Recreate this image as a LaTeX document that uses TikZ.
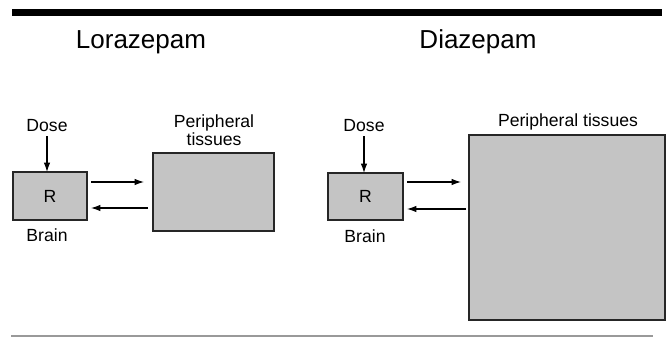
\documentclass[tikz,border=0pt]{standalone}
\usepackage{fontspec}
\setmainfont{Liberation Sans}
\usetikzlibrary{arrows.meta,calc}
\begin{document}
\begin{tikzpicture}[x=0.75pt,y=-0.75pt,
  title/.style={anchor=base,inner sep=0pt,font=\fontsize{19.5}{22}\selectfont},
  lab/.style={anchor=base,inner sep=1pt,font=\fontsize{13.2}{12}\selectfont,align=center},
  box/.style={draw=black!85,line width=1pt,fill=black!23,inner sep=0pt,outer sep=0pt,
    font=\fontsize{13.2}{16}\selectfont},
  arr/.style={-{Latex[length=7pt,width=4.8pt]},line width=0.8pt}]
\useasboundingbox (0,0) rectangle (670,338);
% frame lines
\fill[black] (12,9) rectangle (662,16.5);
\draw[black!40,line width=0.8pt] (11,336) -- (653,336);
% titles
\node[title] (t1) at (141,48.5) {Lorazepam};
\node[title] (t2) at (478,48.5) {Diazepam};
% Lorazepam
\node[lab] (dose1) at (47,132) {Dose};
\node[box,minimum width=74*0.75pt,minimum height=48*0.75pt] (brain1) at (50,196) {R};
\node[lab] (blab1) at (47,241) {Brain};
\node[box,minimum width=121*0.75pt,minimum height=78*0.75pt] (per1) at (213.5,192) {};
\node[lab,anchor=south] (plab1) at (214,147) {Peripheral\\tissues};
\draw[arr,shorten <=2pt] (dose1.south) -- (dose1.south |- brain1.north);
\draw[arr] ($(brain1.east)+(4,-14)$) -- ($(per1.west)+(-9,-10)$);
\draw[arr] ($(per1.west)+(-5,16)$) -- ($(brain1.east)+(4,12)$);
% Diazepam
\node[lab] (dose2) at (364,132) {Dose};
\node[box,minimum width=75*0.75pt,minimum height=47*0.75pt] (brain2) at (365.5,196.5) {R};
\node[lab] (blab2) at (365,242) {Brain};
\node[box,minimum width=196*0.75pt,minimum height=185*0.75pt] (per2) at (567,227.5) {};
\node[lab] (plab2) at (568,127) {Peripheral tissues};
\draw[arr,shorten <=2pt] (dose2.south) -- (dose2.south |- brain2.north);
\draw[arr] ($(brain2.east)+(4,-14.5)$) -- ($(per2.west)+(-8,-45.5)$);
\draw[arr] ($(per2.west)+(-3,-18.5)$) -- ($(brain2.east)+(4,12.5)$);
\end{tikzpicture}
\end{document}
